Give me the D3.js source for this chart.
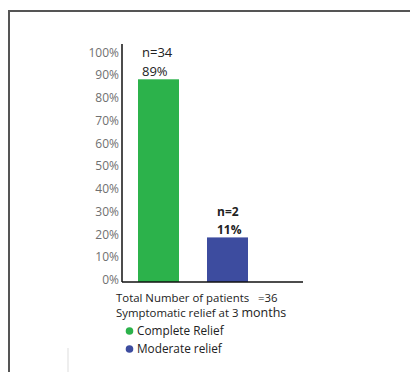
<!DOCTYPE html>
<html lang="en">
<head>
<meta charset="UTF-8">
<script src="https://cdnjs.cloudflare.com/ajax/libs/d3/7.8.5/d3.min.js"></script>
<title>Symptomatic relief</title>
<style>
  body { margin: 0; background: #fff; }
  svg { display: block; font-family: 'Open Sans', sans-serif; }
</style>
</head>
<body>
<svg width="410" height="372"></svg>
<script>
// data
var categories = ["Complete Relief", "Moderate relief"];
var barValues = [88, 18.5];          // bar heights as drawn (%)
var countLabels = ["n=34", "n=2"];
var percentLabels = ["89%", "11%"];
var colors = ["#2cb24b", "#3d4c9f"];
var yTicks = [0, 10, 20, 30, 40, 50, 60, 70, 80, 90, 100];

var svg = d3.select("svg");

// frame
svg.append("path")
    .attr("d", "M9,372V11H410")
    .attr("fill", "none")
    .attr("stroke", "#555")
    .attr("stroke-width", 2);

var x = d3.scaleBand().domain(categories).range([124.2, 261.8]).paddingInner(0.406).paddingOuter(0.2);
var y = d3.scaleLinear().domain([0, 100]).range([279.5, 52]);

// y tick labels
svg.selectAll(".tick")
    .data(yTicks)
    .enter()
    .append("text")
        .attr("x", 119)
        .attr("y", d => y(d) + 4.5)
        .attr("text-anchor", "end")
        .style("font-size", "12px")
        .style("fill", "#707070")
        .text(d => d + "%");

// bars
svg.selectAll("rect")
    .data(categories)
    .enter()
    .append("rect")
        .attr("x", d => x(d))
        .attr("width", x.bandwidth())
        .attr("y", (d, i) => y(barValues[i]))
        .attr("height", (d, i) => 282 - y(barValues[i]))
        .style("fill", (d, i) => colors[i]);

// axes lines
svg.append("line").attr("x1", 122).attr("x2", 122).attr("y1", 44).attr("y2", 282)
    .attr("stroke", "#111").attr("stroke-width", 1.5);
svg.append("line").attr("x1", 122).attr("x2", 303).attr("y1", 282).attr("y2", 282)
    .attr("stroke", "#111").attr("stroke-width", 1.5);

// value labels
categories.forEach(function (c, i) {
    var bold = i == 1;
    var top = y(barValues[i]);
    svg.append("text")
        .attr("x", x(c) + (bold ? 10 : 4))
        .attr("y", top - (bold ? 21 : 22))
        .style("font-size", bold ? "12px" : "13px")
        .style("font-weight", bold ? "bold" : "normal")
        .style("fill", "#222")
        .text(countLabels[i]);
    svg.append("text")
        .attr("x", x(c) + (bold ? 10 : 4))
        .attr("y", top - 3)
        .style("font-size", bold ? "12px" : "13px")
        .style("font-weight", bold ? "bold" : "normal")
        .style("fill", "#222")
        .text(percentLabels[i]);
});

// caption
svg.append("text").attr("x", 116).attr("y", 302)
    .style("font-size", "11.4px").style("fill", "#222")
    .attr("xml:space", "preserve")
    .text("Total Number of patients   =36");
var cap = svg.append("text").attr("x", 116).attr("y", 317)
    .style("font-size", "11.4px").style("fill", "#222");
cap.append("tspan").text("Symptomatic relief at 3 ");
cap.append("tspan").style("font-size", "12.5px").text("months");

// legend
categories.forEach(function (c, i) {
    var ly = 331 + i * 18;
    svg.append("circle").attr("cx", 129.5).attr("cy", ly).attr("r", 3.8).style("fill", colors[i]);
    svg.append("text").attr("x", 137).attr("y", ly + 4)
        .style("font-size", "11.8px").style("fill", "#222").text(c);
});

// faint scan line
svg.append("line").attr("x1", 68).attr("x2", 68).attr("y1", 348).attr("y2", 372)
    .attr("stroke", "#ddd").attr("stroke-width", 1);
</script>
</body>
</html>
